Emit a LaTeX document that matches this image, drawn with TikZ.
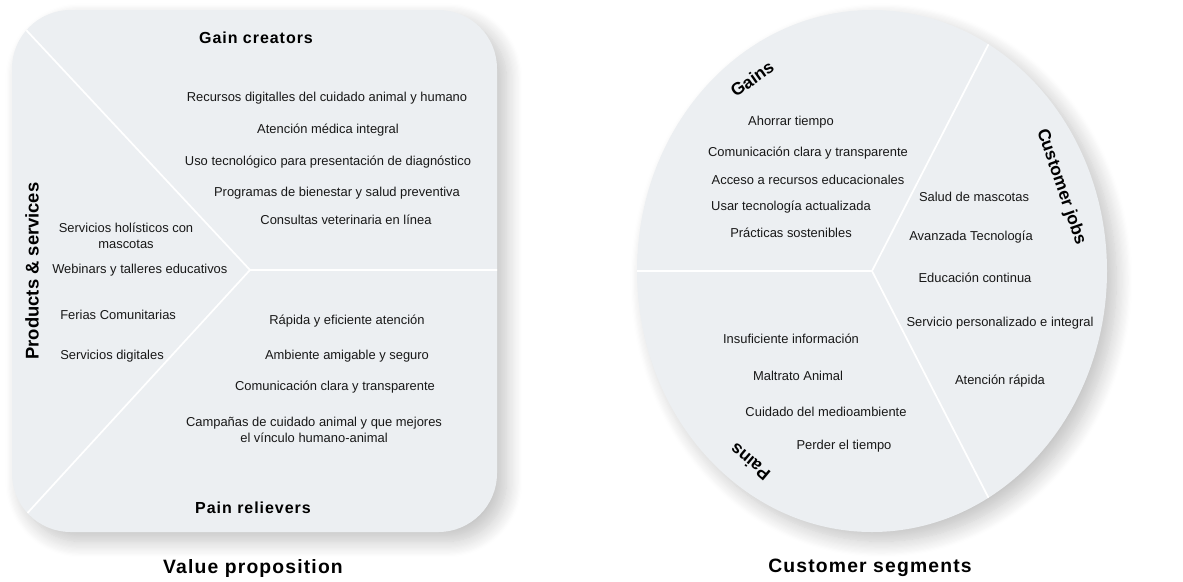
\documentclass[tikz,border=0pt]{standalone}
\usepackage{fontspec}
\setmainfont{Liberation Sans}
\newfontfamily\headfont[LetterSpace=6]{Liberation Sans}
\usetikzlibrary{shadows.blur}
\definecolor{panelgray}{HTML}{ECEFF2}
\definecolor{inkdark}{HTML}{181818}

\begin{document}
\begin{tikzpicture}[
  x=0.75pt, y=-0.75pt,
  panel/.style={
    fill=panelgray,
    blur shadow={shadow xshift=7pt, shadow yshift=-7pt,
      shadow blur radius=12pt, shadow opacity=24, shadow blur steps=14}
  },
  divider/.style={draw=white, line width=1.3pt},
  item/.style={font=\fontsize{9.7}{12}\selectfont, text=inkdark, inner sep=0pt, align=center},
  heading/.style={font=\headfont\bfseries\fontsize{12}{14}\selectfont, text=black, inner sep=0pt},
  sidelabel/.style={font=\bfseries\fontsize{13}{15}\selectfont, text=black, inner sep=0pt},
  caption/.style={font=\headfont\bfseries\fontsize{14.5}{17}\selectfont, text=black, inner sep=0pt}
]
  \useasboundingbox (0,0) rectangle (1183,582);

  % value proposition square
  \path[panel, rounded corners=44pt] (12,10) rectangle (497,532);
  \coordinate (vphub) at (250,270);
  \coordinate (vptop) at (0,2);
  \coordinate (vpright) at (510,270);
  \coordinate (vpbottom) at (0,543);
  \begin{scope}
    \clip[rounded corners=44pt] (12,10) rectangle (497,532);
    \draw[divider] (vphub) -- (vptop);
    \draw[divider] (vphub) -- (vpright);
    \draw[divider] (vphub) -- (vpbottom);
  \end{scope}

  % customer segment circle
  \path[panel] (872,271) ellipse [x radius=235, y radius=261];
  \coordinate (cshub) at (872,271);
  \coordinate (csup) at (1002,18);
  \coordinate (csdown) at (1002,524);
  \coordinate (csleft) at (620,271);
  \begin{scope}
    \clip (872,271) ellipse [x radius=235, y radius=261];
    \draw[divider] (cshub) -- (csup);
    \draw[divider] (cshub) -- (csdown);
    \draw[divider] (cshub) -- (csleft);
  \end{scope}

  \node[heading] (gaincreators) at (256,38) {Gain creators};
  \node[item] (gc1) at (327,98) {Recursos digitalles del cuidado animal y humano};
  \node[item] (gc2) at (328,130) {Atención médica integral};
  \node[item] (gc3) at (328,162) {Uso tecnológico para presentación de diagnóstico};
  \node[item] (gc4) at (337,193) {Programas de bienestar y salud preventiva};
  \node[item] (gc5) at (346,220) {Consultas veterinaria en línea};

  \node[sidelabel, rotate=90, font=\bfseries\fontsize{13.8}{15}\selectfont] (products) at (32,271) {Products \& services};
  \node[item] (ps1) at (126,236) {Servicios holísticos con\\mascotas};
  \node[item, anchor=west] (ps2) at (52,270) {Webinars y talleres educativos};
  \node[item, anchor=west] (ps3) at (60,315) {Ferias Comunitarias};
  \node[item, anchor=west] (ps4) at (60,356) {Servicios digitales};

  \node[item] (pr1) at (347,321) {Rápida y eficiente atención};
  \node[item] (pr2) at (347,356) {Ambiente amigable y seguro};
  \node[item] (pr3) at (335,387) {Comunicación clara y transparente};
  \node[item] (pr4) at (314,430) {Campañas de cuidado animal y que mejores\\el vínculo humano-animal};
  \node[heading] (painrelievers) at (253,508) {Pain relievers};

  \node[caption] (valueprop) at (253,568) {Value proposition};

  \node[sidelabel, rotate=35] (gains) at (752,79) {Gains};
  \node[item] (ga1) at (791,122) {Ahorrar tiempo};
  \node[item] (ga2) at (808,153) {Comunicación clara y transparente};
  \node[item] (ga3) at (808,180) {Acceso a recursos educacionales};
  \node[item] (ga4) at (791,207) {Usar tecnología actualizada};
  \node[item] (ga5) at (791,233) {Prácticas sostenibles};

  \node[sidelabel, rotate=-71] (jobs) at (1061,187) {Customer jobs};
  \node[item] (cj1) at (974,197) {Salud de mascotas};
  \node[item] (cj2) at (971,237) {Avanzada Tecnología};
  \node[item] (cj3) at (975,278) {Educación continua};
  \node[item] (cj4) at (1000,323) {Servicio personalizado e integral};
  \node[item] (cj5) at (1000,381) {Atención rápida};

  \node[sidelabel, rotate=140] (pains) at (750,462) {Pains};
  \node[item] (pa1) at (791,339) {Insuficiente información};
  \node[item] (pa2) at (798,376) {Maltrato Animal};
  \node[item] (pa3) at (826,412) {Cuidado del medioambiente};
  \node[item] (pa4) at (844,446) {Perder el tiempo};

  \node[caption] (segments) at (870,568) {Customer segments};
\end{tikzpicture}
\end{document}
